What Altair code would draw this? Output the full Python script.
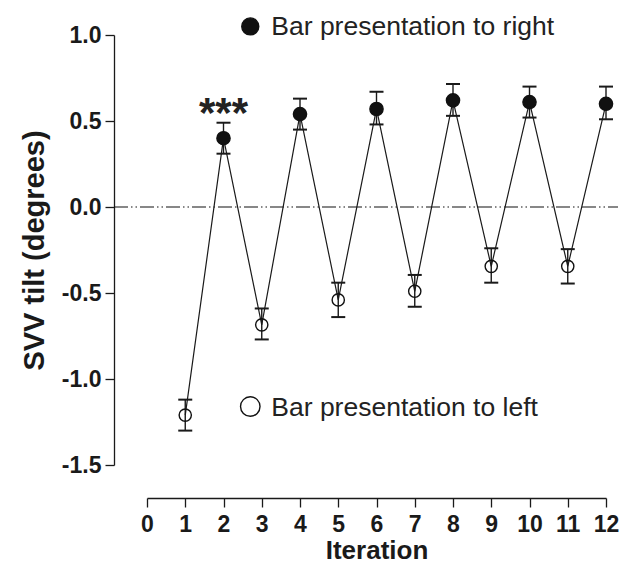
import altair as alt
import pandas as pd

iterations = [1, 2, 3, 4, 5, 6, 7, 8, 9, 10, 11, 12]
svv_mean = [-1.21, 0.40, -0.685, 0.54, -0.54, 0.57, -0.49, 0.62, -0.345, 0.61, -0.345, 0.60]
svv_low = [-1.30, 0.31, -0.77, 0.45, -0.64, 0.48, -0.58, 0.53, -0.44, 0.52, -0.445, 0.51]
svv_high = [-1.12, 0.49, -0.59, 0.63, -0.44, 0.67, -0.395, 0.715, -0.24, 0.70, -0.245, 0.70]
side = ["left", "right"] * 6

legend_labels = ["Bar presentation to right", "Bar presentation to left"]
legend_x = [2.7, 2.7]
legend_y = [1.05, -1.16]
legend_side = ["right", "left"]

star_label = ["***"]
star_x = [2]
star_y = [0.54]

y_ticks = [-1.5, -1.0, -0.5, 0.0, 0.5, 1.0]
x_ticks = list(range(0, 13))

df = pd.DataFrame({"iter": iterations, "mean": svv_mean, "low": svv_low,
                   "high": svv_high, "side": side})
leg = pd.DataFrame({"label": legend_labels, "x": legend_x, "y": legend_y, "side": legend_side})
stars = pd.DataFrame({"label": star_label, "x": star_x, "y": star_y})

FONT = "Liberation Sans"
INK = "#1a1a1a"

xscale = alt.Scale(domain=[0, 12], nice=False, zero=False)
yscale = alt.Scale(domain=[-1.5, 1.0], nice=False, zero=False)

xaxis = alt.Axis(values=x_ticks, title="Iteration", offset=33, grid=False,
                 labelOverlap=False, labelFlush=False,
                 domainColor=INK, tickColor=INK, tickSize=9, domainWidth=1.3, tickWidth=1.3,
                 labelFont=FONT, labelFontSize=23, labelFontWeight="bold", labelColor=INK,
                 labelPadding=6,
                 titleFont=FONT, titleFontSize=26, titleFontWeight="bold", titleColor=INK,
                 titlePadding=1)
yaxis = alt.Axis(values=y_ticks, title="SVV tilt (degrees)", offset=33, grid=False,
                 labelOverlap=False, labelFlush=False,
                 labelExpr="replace(format(datum.value, '.1f'), '\u2212', '-')",
                 domainColor=INK, tickColor=INK, tickSize=9, domainWidth=1.3, tickWidth=1.3,
                 labelFont=FONT, labelFontSize=23, labelFontWeight="bold", labelColor=INK,
                 labelPadding=4,
                 titleFont=FONT, titleFontSize=29, titleFontWeight="bold", titleColor=INK,
                 titlePadding=12)


def X(field):
    return alt.X(field, scale=xscale, axis=xaxis)


def Y(field):
    return alt.Y(field, scale=yscale, axis=yaxis)


base = alt.Chart(df)

zero_line = alt.Chart(pd.DataFrame({"z": [0.0]})).mark_rule(
    color="#111", strokeWidth=1.1, strokeDash=[14, 3, 1.5, 3, 1.5, 3]
).encode(y=Y("z:Q"), x=alt.value(-33), x2=alt.value(471))

line = base.mark_line(color=INK, strokeWidth=1.2).encode(x=X("iter:Q"), y=Y("mean:Q"))

err = base.mark_rule(color=INK, strokeWidth=1.4).encode(
    x=X("iter:Q"), y=Y("low:Q"), y2="high:Q")
cap_lo = base.mark_tick(color=INK, orient="horizontal", size=14, thickness=2, opacity=1).encode(
    x=X("iter:Q"), y=Y("low:Q"))
cap_hi = base.mark_tick(color=INK, orient="horizontal", size=14, thickness=2, opacity=1).encode(
    x=X("iter:Q"), y=Y("high:Q"))

color_fill = alt.Scale(domain=["right", "left"], range=["#111", "transparent"])

pts = base.mark_point(shape="circle", filled=False, stroke="#111", strokeWidth=1.4, opacity=1).encode(
    x=X("iter:Q"), y=Y("mean:Q"),
    fill=alt.Fill("side:N", scale=color_fill, legend=None),
    size=alt.condition("datum.side == 'right'", alt.value(175), alt.value(150)),
)

leg_pts = alt.Chart(leg).mark_point(shape="circle", stroke="#111", strokeWidth=1.4, opacity=1).encode(
    x=X("x:Q"), y=Y("y:Q"),
    fill=alt.Fill("side:N", scale=color_fill, legend=None),
    size=alt.condition("datum.side == 'right'", alt.value(290), alt.value(380)),
)
leg_txt = alt.Chart(leg).mark_text(align="left", baseline="middle", dx=21, dy=1, font=FONT,
                                   fontSize=26.5, color="#222").encode(
    x=X("x:Q"), y=Y("y:Q"), text="label:N")

star_txt = alt.Chart(stars).mark_text(align="center", baseline="middle", font=FONT,
                                      fontSize=42, fontWeight="bold", color="#222").encode(
    x=X("x:Q"), y=Y("y:Q"), text="label:N")

chart = alt.layer(zero_line, line, err, cap_lo, cap_hi, pts, leg_pts, leg_txt, star_txt).properties(
    width=459, height=430,
    autosize=alt.AutoSizeParams(type="none"),
    padding={"left": 147, "top": 35, "right": 16, "bottom": 104},
    background="white",
).configure_view(stroke=None).configure_axis(labelOverlap=False)

chart.save("out.html", embed_options={"renderer": "svg", "actions": False})
